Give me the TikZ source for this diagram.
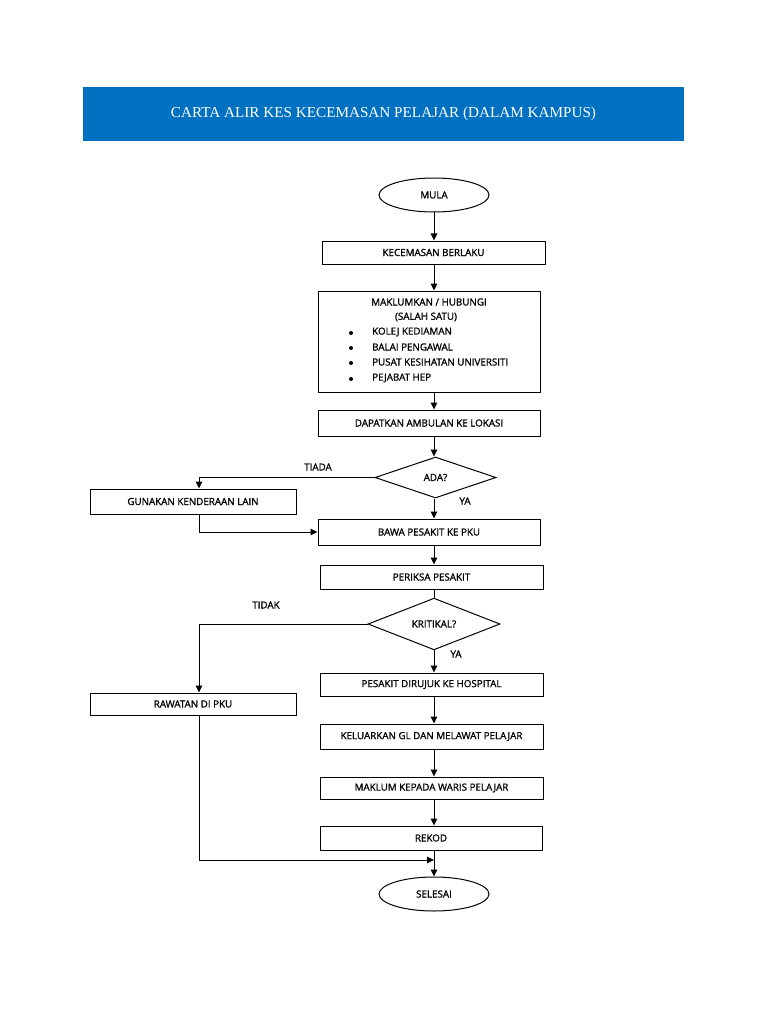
\documentclass[tikz,border=0pt]{standalone}
\usepackage{fontspec}
\setmainfont{Open Sans}
\newfontfamily\boxfont{Open Sans}[FakeBold=1.2]
\newfontfamily\titlefont{Liberation Serif}
\usetikzlibrary{shapes.geometric,arrows.meta}
\definecolor{titleblue}{HTML}{0070C0}
\begin{document}
\begin{tikzpicture}[x=1pt,y=-1pt,
  every node/.style={font=\boxfont\fontsize{9.8}{11}\selectfont},
  box/.style={draw, line width=1pt, inner sep=0pt, minimum height=24pt},
  dia/.style={draw, diamond, line width=1pt, inner sep=0pt},
  term/.style={draw, ellipse, line width=1pt, inner sep=0pt, minimum width=110pt, minimum height=34pt},
  arr/.style={line width=1pt, -{Triangle[length=7pt,width=6.5pt]}},
  ln/.style={line width=1pt},
  lbl/.style={inner sep=0pt}]
\useasboundingbox (0,0) rectangle (768,1024);
\fill[white] (0,0) rectangle (768,1024);
% title
\node[fill=titleblue, minimum width=601pt, minimum height=54pt, inner sep=0pt, text=white,
      font=\titlefont\fontsize{15.2}{17}\selectfont] (title) at (383.5,114) {CARTA ALIR KES KECEMASAN PELAJAR (DALAM KAMPUS)};
% nodes
\node[term] (mula) at (434,195) {MULA};
\node[box, minimum width=223pt, minimum height=23pt] (kec) at (433.5,252.5) {KECEMASAN BERLAKU};
\node[box, minimum width=222pt, minimum height=101pt] (mak) at (429,341.5) {};
\node[lbl] (makt1) at (429,302) {MAKLUMKAN / HUBUNGI};
\node[lbl] (makt2) at (426,317) {(SALAH SATU)};
\node[lbl, anchor=west] (i1) at (372,332) {KOLEJ KEDIAMAN};
\node[lbl, anchor=west] (i2) at (372,347) {BALAI PENGAWAL};
\node[lbl, anchor=west] (i3) at (372,362) {PUSAT KESIHATAN UNIVERSITI};
\node[lbl, anchor=west] (i4) at (372,378) {PEJABAT HEP};
\foreach \yy in {333,348,363,379} \fill (351,\yy) circle (2pt);
\node[box, minimum width=222pt, minimum height=26pt] (amb) at (429,423) {DAPATKAN AMBULAN KE LOKASI};
\node[dia, minimum width=121pt, minimum height=41pt] (ada) at (435.5,477.5) {ADA?};
\node[box, minimum width=206pt, minimum height=25pt] (lain) at (193,501.5) {GUNAKAN KENDERAAN LAIN};
\node[box, minimum width=222pt, minimum height=26pt] (bawa) at (429,532) {BAWA PESAKIT KE PKU};
\node[box, minimum width=223pt, minimum height=24pt] (periksa) at (431.5,577) {PERIKSA PESAKIT};
\node[dia, minimum width=132pt, minimum height=38pt] (krit) at (434,624) {KRITIKAL?};
\node[box, minimum width=223pt, minimum height=23pt] (rujuk) at (431.5,684.5) {PESAKIT DIRUJUK KE HOSPITAL};
\node[box, minimum width=206pt, minimum height=22pt] (rawat) at (193,704) {RAWATAN DI PKU};
\node[box, minimum width=223pt, minimum height=25pt] (kel) at (431.5,736.5) {KELUARKAN GL DAN MELAWAT PELAJAR};
\node[box, minimum width=223pt, minimum height=22pt] (mak2) at (431.5,788) {MAKLUM KEPADA WARIS PELAJAR};
\node[box, minimum width=222pt, minimum height=24pt] (rekod) at (431,838) {REKOD};
\node[term] (selesai) at (434,894) {SELESAI};
% labels
\node[lbl] (tiada) at (318,467) {TIADA};
\node[lbl] (ya1) at (465,501) {YA};
\node[lbl] (tidak) at (266,605) {TIDAK};
\node[lbl] (ya2) at (456,654) {YA};
\coordinate (jn) at (434,860);
% connectors
\draw[arr] (mula.south) -- (mula.south |- kec.north);
\draw[arr] (mula.south |- kec.south) -- (mula.south |- mak.north);
\draw[arr] (mula.south |- mak.south) -- (mula.south |- amb.north);
\draw[arr] (mula.south |- amb.south) -- (mula.south |- ada.north);
\draw[arr] (mula.south |- ada.south) -- (mula.south |- bawa.north);
\draw[arr] (ada.west) -| (lain.north -| 199,0);
\draw[arr] (lain.south -| 199,0) |- (bawa.west);
\draw[arr] (mula.south |- bawa.south) -- (mula.south |- periksa.north);
\draw[ln] (mula.south |- periksa.south) -- (mula.south |- krit.north);
\draw[arr] (mula.south |- krit.south) -- (mula.south |- rujuk.north);
\draw[arr] (krit.west) -| (rawat.north -| 199,0);
\draw[arr] (mula.south |- rujuk.south) -- (mula.south |- kel.north);
\draw[arr] (mula.south |- kel.south) -- (mula.south |- mak2.north);
\draw[arr] (mula.south |- mak2.south) -- (mula.south |- rekod.north);
\draw[arr] (mula.south |- rekod.south) -- (selesai.north);
\draw[arr] (rawat.south -| 199,0) |- (jn);
\end{tikzpicture}
\end{document}
